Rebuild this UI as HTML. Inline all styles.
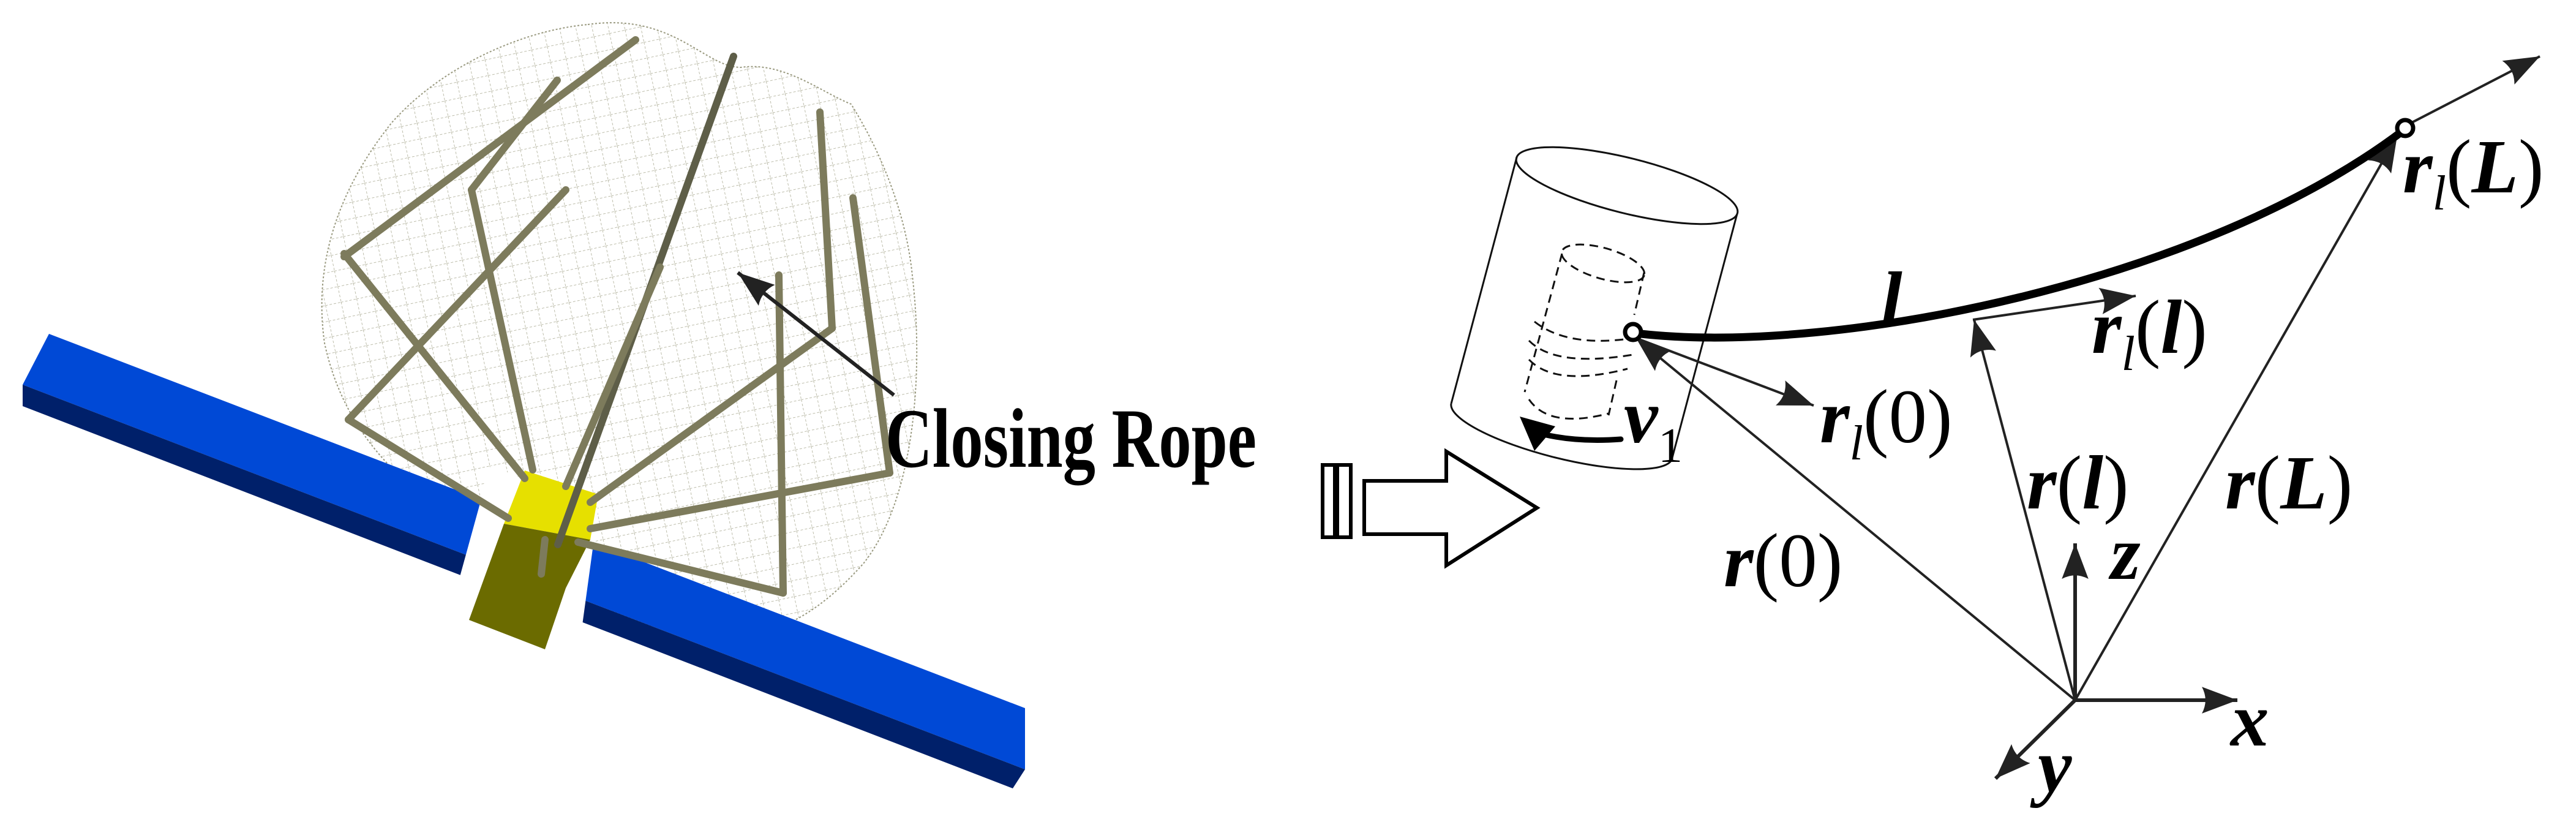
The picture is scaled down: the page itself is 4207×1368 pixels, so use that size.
<!DOCTYPE html>
<html><head><meta charset="utf-8"><style>html,body{margin:0;padding:0;background:#fff}svg{display:block}</style></head>
<body>
<svg width="4207" height="1368" viewBox="0 0 4207 1368" xmlns="http://www.w3.org/2000/svg">
<defs>
<pattern id="mesh" width="26" height="26" patternUnits="userSpaceOnUse" patternTransform="rotate(-12)">
<path d="M0 0H26M0 0V26" stroke="#a8a890" stroke-width="1.5" fill="none" stroke-dasharray="4 3"/>
</pattern>
<marker id="ah" viewBox="0 0 40 30" refX="40" refY="15" markerWidth="58" markerHeight="44" markerUnits="userSpaceOnUse" orient="auto">
<path d="M0 0L40 15L0 30Q8 15 0 0Z" fill="#222"/>
</marker>
<marker id="ahb" viewBox="0 0 50 36" refX="50" refY="18" markerWidth="60" markerHeight="44" markerUnits="userSpaceOnUse" orient="auto">
<path d="M0 0L50 18L0 36Q9 18 0 0Z" fill="#222"/>
</marker>
</defs>

<!-- net blob -->
<path d="M960,40 C1100,20 1150,110 1210,110 C1280,100 1340,150 1390,170 C1440,250 1480,350 1490,450 C1510,620 1490,820 1410,920 C1330,1010 1250,1050 1150,1040 C1000,1020 900,940 800,880 C650,800 560,700 530,560 C510,420 560,300 640,200 C720,110 850,50 960,40 Z" fill="url(#mesh)" stroke="#9a9a80" stroke-width="2" stroke-dasharray="3 3"/>

<!-- blue bar -->
<polygon points="80,545 1674,1156 1674,1256 37,628" fill="#0049d6"/>
<polygon points="37,628 1674,1256 1654,1287 37,663" fill="#00206a"/>
<polygon points="801,760 977,830 951,1020 750,945" fill="#fff"/>
<polygon points="857,768 977,807 964,881 823,855" fill="#e6e000"/>
<polygon points="823,855 964,881 924,960 890,1060 766,1012" fill="#6b6b00"/>

<!-- rods -->
<g stroke="#7d7b5c" stroke-width="12" stroke-linecap="round" fill="none">
<line x1="562" y1="419" x2="1038" y2="65"/>
<line x1="562" y1="414" x2="857" y2="781"/>
<line x1="770" y1="310" x2="910" y2="131"/>
<line x1="770" y1="310" x2="870" y2="767"/>
<line x1="924" y1="310" x2="569" y2="685"/>
<line x1="569" y1="685" x2="830" y2="846"/>
<line x1="1198" y1="92" x2="911" y2="889" stroke="#5e5e48"/>
<line x1="1078" y1="436" x2="924" y2="794"/>
<line x1="1339" y1="183" x2="1359" y2="536"/>
<line x1="1359" y1="536" x2="964" y2="820"/>
<line x1="1272" y1="449" x2="1279" y2="968"/>
<line x1="1279" y1="968" x2="944" y2="885"/>
<line x1="1393" y1="323" x2="1453" y2="772"/>
<line x1="1453" y1="772" x2="964" y2="863"/>
<line x1="890" y1="881" x2="884" y2="937"/>
</g>
<line x1="1460" y1="645" x2="1205" y2="445" stroke="#222" stroke-width="6" marker-end="url(#ahb)"/>
<text x="1446" y="762" font-family="Liberation Serif, serif" font-weight="bold" font-size="138" textLength="606" lengthAdjust="spacingAndGlyphs">Closing Rope</text>

<!-- hollow arrow -->
<g fill="#fff" stroke="#000" stroke-width="6">
<rect x="2160" y="759" width="20" height="118"/>
<rect x="2184" y="759" width="22" height="118"/>
<polygon points="2228,785 2362,785 2362,737 2510,829 2362,923 2362,872 2228,872"/>
</g>

<!-- cylinder -->
<g fill="none" stroke="#111" stroke-width="3">
<ellipse cx="2657" cy="303" rx="186" ry="45" transform="rotate(14 2657 303)"/>
<line x1="2477" y1="257" x2="2370" y2="659"/>
<line x1="2837" y1="349" x2="2730" y2="751"/>
<path d="M2370,659 A186,45 14 0 0 2730,751"/>
</g>
<g fill="none" stroke="#111" stroke-width="3" stroke-dasharray="14 9">
<ellipse cx="2618" cy="430" rx="70" ry="25" transform="rotate(16 2618 430)"/>
<line x1="2551" y1="414" x2="2490" y2="640"/>
<line x1="2685" y1="445" x2="2669" y2="514"/>
<line x1="2640" y1="621" x2="2627" y2="678"/>
<path d="M2506,525 Q2560,568 2667,552"/>
<path d="M2497,556 Q2540,600 2667,579"/>
<path d="M2497,587 Q2540,632 2658,602"/>
<path d="M2497,652 Q2530,700 2627,675"/>
</g>
<path d="M2647,717 Q2580,722 2525,710" fill="none" stroke="#000" stroke-width="9" stroke-linecap="round"/>
<polygon points="2482,680 2540,696 2506,736" fill="#000"/>

<!-- vectors -->
<g stroke="#222" stroke-width="4" fill="none">
<line x1="3389" y1="1143" x2="2672" y2="552" marker-end="url(#ah)"/>
<line x1="2672" y1="552" x2="2962" y2="662" marker-end="url(#ah)"/>
<line x1="3389" y1="1143" x2="3224" y2="522" marker-end="url(#ah)"/>
<line x1="3222" y1="522" x2="3488" y2="483" marker-end="url(#ah)"/>
<line x1="3389" y1="1143" x2="3915" y2="222" marker-end="url(#ah)"/>
<line x1="3935" y1="202" x2="4148" y2="92" marker-end="url(#ah)"/>
</g>
<g stroke="#222" stroke-width="6" fill="none">
<line x1="3389" y1="1143" x2="3389" y2="887" marker-end="url(#ah)"/>
<line x1="3389" y1="1143" x2="3654" y2="1143" marker-end="url(#ah)"/>
<line x1="3389" y1="1143" x2="3259" y2="1271" marker-end="url(#ah)"/>
</g>
<path d="M2680,545 C3000,580 3600,460 3925,213" fill="none" stroke="#000" stroke-width="13"/>
<circle cx="2667" cy="542" r="13" fill="#fff" stroke="#000" stroke-width="7"/>
<circle cx="3928" cy="209" r="13" fill="#fff" stroke="#000" stroke-width="7"/>

<!-- labels -->
<g font-family="Liberation Serif, serif" font-size="125" fill="#000">
<text x="3072" y="530" font-weight="bold" font-style="italic">l</text>
<text x="2652" y="722" font-weight="bold" font-style="italic">v</text>
<text x="2708" y="754" font-size="80">1</text>
<text x="2972" y="722"><tspan font-weight="bold" font-style="italic">r</tspan><tspan font-size="80" font-style="italic" dy="28">l</tspan><tspan dy="-28">(0)</tspan></text>
<text x="3416" y="576"><tspan font-weight="bold" font-style="italic">r</tspan><tspan font-size="80" font-style="italic" dy="28">l</tspan><tspan dy="-28">(</tspan><tspan font-weight="bold" font-style="italic">l</tspan><tspan>)</tspan></text>
<text x="3924" y="314"><tspan font-weight="bold" font-style="italic">r</tspan><tspan font-size="80" font-style="italic" dy="28">l</tspan><tspan dy="-28">(</tspan><tspan font-weight="bold" font-style="italic">L</tspan><tspan>)</tspan></text>
<text x="3310" y="830"><tspan font-weight="bold" font-style="italic">r</tspan>(<tspan font-weight="bold" font-style="italic">l</tspan>)</text>
<text x="3634" y="830"><tspan font-weight="bold" font-style="italic">r</tspan>(<tspan font-weight="bold" font-style="italic">L</tspan>)</text>
<text x="2815" y="957"><tspan font-weight="bold" font-style="italic">r</tspan>(0)</text>
<text x="3447" y="945" font-weight="bold" font-style="italic">z</text>
<text x="3643" y="1217" font-weight="bold" font-style="italic">x</text>
<text x="3328" y="1292" font-weight="bold" font-style="italic">y</text>
</g>
</svg>
</body></html>
